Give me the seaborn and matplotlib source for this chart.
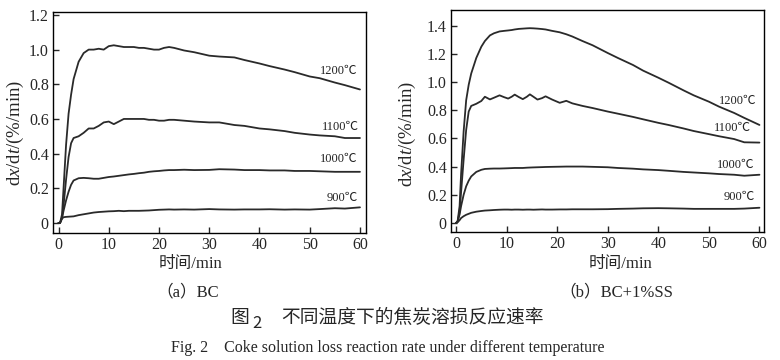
# plot.py
# Coke solution loss reaction rate at different temperatures (two panels)

import numpy as np
import pandas as pd
import matplotlib
matplotlib.use("Agg")
import matplotlib.pyplot as plt
import seaborn as sns

# ------------ Data ------------
temps = ["900℃", "1000℃", "1100℃", "1200℃"]

# panel (a) BC
t_a = [0, 0.3, 0.7, 1, 1.5, 2, 2.5, 3, 4, 5, 6, 7, 8, 9, 10, 11, 12, 13, 14, 15,
       16, 17, 18, 19, 20, 21, 22, 23, 25, 27, 30, 32, 35, 37, 40, 42, 45, 47,
       50, 52, 55, 57, 60]
a_900 = [0, 0.0, 0.025, 0.033, 0.035, 0.036, 0.037, 0.038, 0.045, 0.05, 0.055,
         0.06, 0.063, 0.065, 0.067, 0.068, 0.07, 0.068, 0.07, 0.07, 0.07, 0.071,
         0.072, 0.074, 0.076, 0.077, 0.078, 0.077, 0.078, 0.077, 0.08, 0.078,
         0.077, 0.078, 0.078, 0.079, 0.077, 0.078, 0.077, 0.08, 0.085, 0.083, 0.09]
a_1000 = [0, 0.0, 0.03, 0.07, 0.13, 0.18, 0.22, 0.245, 0.258, 0.26, 0.258, 0.255,
          0.255, 0.26, 0.265, 0.268, 0.272, 0.276, 0.28, 0.283, 0.287, 0.29,
          0.295, 0.298, 0.3, 0.303, 0.305, 0.305, 0.307, 0.305, 0.306, 0.31,
          0.308, 0.305, 0.305, 0.303, 0.303, 0.3, 0.3, 0.298, 0.295, 0.295, 0.295]
a_1100 = [0, 0.0, 0.03, 0.1, 0.25, 0.38, 0.46, 0.49, 0.5, 0.52, 0.545, 0.545,
          0.56, 0.58, 0.585, 0.57, 0.585, 0.6, 0.6, 0.6, 0.6, 0.6, 0.595, 0.595,
          0.59, 0.59, 0.595, 0.595, 0.59, 0.585, 0.58, 0.58, 0.565, 0.56, 0.545,
          0.54, 0.53, 0.52, 0.51, 0.505, 0.5, 0.49, 0.49]
a_1200 = [0, 0.0, 0.05, 0.2, 0.45, 0.63, 0.74, 0.83, 0.93, 0.98, 1.0, 1.0, 1.005,
          1.0, 1.02, 1.025, 1.02, 1.015, 1.015, 1.015, 1.01, 1.01, 1.005, 1.0,
          1.0, 1.01, 1.015, 1.01, 0.995, 0.985, 0.965, 0.96, 0.955, 0.94, 0.92,
          0.905, 0.885, 0.87, 0.845, 0.835, 0.81, 0.795, 0.77]

# panel (b) BC+1%SS
t_b = [0, 0.3, 0.7, 1, 1.5, 2, 2.5, 3, 4, 5, 5.7, 6.7, 7.5, 8.6, 9.5, 10.3, 11,
       11.6, 12.4, 13.2, 14, 14.6, 15.3, 16.1, 17, 17.7, 19, 20.5, 21.8, 23, 25,
       27, 30, 32, 35, 37, 40, 42, 45, 47, 50, 52, 55, 57, 60]
b_900 = [0, 0.005, 0.02, 0.035, 0.048, 0.058, 0.065, 0.072, 0.08, 0.085, 0.088,
         0.09, 0.092, 0.094, 0.095, 0.095, 0.094, 0.095, 0.095, 0.094, 0.095,
         0.095, 0.094, 0.095, 0.096, 0.095, 0.095, 0.096, 0.096, 0.097, 0.097,
         0.097, 0.098, 0.1, 0.102, 0.104, 0.105, 0.104, 0.102, 0.1, 0.1, 0.1,
         0.1, 0.102, 0.108]
b_1000 = [0, 0.01, 0.06, 0.12, 0.2, 0.26, 0.3, 0.33, 0.362, 0.377, 0.383, 0.385,
          0.386, 0.386, 0.387, 0.388, 0.389, 0.39, 0.39, 0.39, 0.392, 0.393,
          0.394, 0.395, 0.396, 0.397, 0.398, 0.399, 0.4, 0.4, 0.4, 0.398, 0.395,
          0.39, 0.385, 0.38, 0.375, 0.37, 0.362, 0.358, 0.352, 0.347, 0.342,
          0.335, 0.342]
b_1100 = [0, 0.01, 0.08, 0.22, 0.45, 0.66, 0.79, 0.83, 0.845, 0.865, 0.895,
          0.876, 0.888, 0.905, 0.892, 0.882, 0.895, 0.91, 0.893, 0.878, 0.895,
          0.912, 0.895, 0.875, 0.885, 0.898, 0.875, 0.852, 0.866, 0.848, 0.83,
          0.815, 0.79, 0.775, 0.752, 0.735, 0.71, 0.695, 0.67, 0.652, 0.63,
          0.615, 0.595, 0.572, 0.57]
b_1200 = [0, 0.01, 0.12, 0.35, 0.65, 0.87, 0.98, 1.06, 1.17, 1.25, 1.29, 1.33,
          1.345, 1.358, 1.362, 1.365, 1.368, 1.372, 1.376, 1.378, 1.38, 1.381,
          1.38, 1.378, 1.375, 1.372, 1.362, 1.352, 1.338, 1.322, 1.29, 1.26,
          1.205, 1.17, 1.12, 1.08, 1.03, 0.995, 0.94, 0.905, 0.86, 0.825, 0.78,
          0.745, 0.695]

# curve labels: (x, y) anchor of the right end of each label
lab_a = {"1200℃": (59.5, 0.879), "1100℃": (59.8, 0.555),
         "1000℃": (59.5, 0.367), "900℃": (59.5, 0.1445)}
lab_b = {"1200℃": (59.5, 0.864), "1100℃": (58.4, 0.672),
         "1000℃": (59.0, 0.412), "900℃": (59.0, 0.181)}

# ------------ Style ------------
sns.set_style("ticks")
FONTS = ["Liberation Serif", "Noto Sans CJK SC", "DejaVu Serif"]
CJK = ["Noto Sans CJK SC", "Liberation Serif"]
plt.rcParams["font.family"] = FONTS
plt.rcParams["axes.unicode_minus"] = False
# serif italics for the x / t in the y label
plt.rcParams["mathtext.fontset"] = "custom"
plt.rcParams["mathtext.rm"] = "Liberation Serif"
plt.rcParams["mathtext.it"] = "Liberation Serif:italic"

LINE_COLOR = "#2a2a2a"


def fmt_y(v, pos):
    return "0" if abs(v) < 1e-9 else f"{v:.1f}"


def draw_panel(ax, t, series, labels, xlim, ylim, yticks):
    for name, vals in zip(temps, series):
        df = pd.DataFrame({"t": t, "rate": vals})
        sns.lineplot(data=df, x="t", y="rate", ax=ax, color=LINE_COLOR,
                     lw=1.3, estimator=None)
    for name, (x, y) in labels.items():
        ax.text(x, y, name, ha="right", va="center", fontsize=9,
                color="#222222")
    ax.set_xlim(*xlim)
    ax.set_ylim(*ylim)
    ax.set_xticks([0, 10, 20, 30, 40, 50, 60])
    ax.set_yticks(yticks)
    ax.yaxis.set_major_formatter(plt.FuncFormatter(fmt_y))
    ax.set_xlabel("")
    ax.set_ylabel("")
    ax.tick_params(direction="in", length=4, width=1, labelsize=11.5,
                   top=False, right=False, pad=3)
    for sp in ax.spines.values():
        sp.set_visible(True)
        sp.set_linewidth(1.0)
        sp.set_color("black")


fig = plt.figure(figsize=(7.8, 3.6), dpi=100)
ax_a = fig.add_axes([53 / 780, 1 - 233 / 360, 313 / 780, 221 / 360])
ax_b = fig.add_axes([451 / 780, 1 - 232 / 360, 313 / 780, 222 / 360])

draw_panel(ax_a, t_a, [a_900, a_1000, a_1100, a_1200], lab_a,
           (-1.1, 61.2), (-0.058, 1.217), [0, 0.2, 0.4, 0.6, 0.8, 1.0, 1.2])
draw_panel(ax_b, t_b, [b_900, b_1000, b_1100, b_1200], lab_b,
           (-1.0, 60.9), (-0.064, 1.51), [0, 0.2, 0.4, 0.6, 0.8, 1.0, 1.2, 1.4])

# axis labels placed as in the original layout
ylab = "d$x$/d$t$/(%/min)"
fig.text(15 / 780, 1 - 133 / 360, ylab, rotation=90, ha="center",
         va="center", fontsize=13.5)
fig.text(407 / 780, 1 - 134 / 360, ylab, rotation=90, ha="center",
         va="center", fontsize=13.5)

fig.text(190 / 780, 1 - 264 / 360, "时间/min", ha="center", va="center",
         fontsize=12)
fig.text(620 / 780, 1 - 264 / 360, "时间/min", ha="center", va="center",
         fontsize=12)
fig.text(188 / 780, 1 - 292 / 360, "（a）BC", ha="center", va="center",
         fontsize=12)
fig.text(616 / 780, 1 - 292 / 360, "（b）BC+1%SS", ha="center", va="center",
         fontsize=12)

# figure caption
fig.text(240 / 780, 1 - 318 / 360, "图", ha="center", va="center",
         fontsize=13.5, family=CJK)
fig.text(257 / 780, 1 - 324 / 360, "2", ha="center", va="center",
         fontsize=12, family=CJK)
fig.text(412 / 780, 1 - 318 / 360, "不同温度下的焦炭溶损反应速率",
         ha="center", va="center", fontsize=13.5, family=CJK)
fig.text(388 / 780, 1 - 348 / 360,
         "Fig. 2    Coke solution loss reaction rate under different temperature",
         ha="center", va="center", fontsize=11.5)

fig.savefig("out.png", dpi=100)
